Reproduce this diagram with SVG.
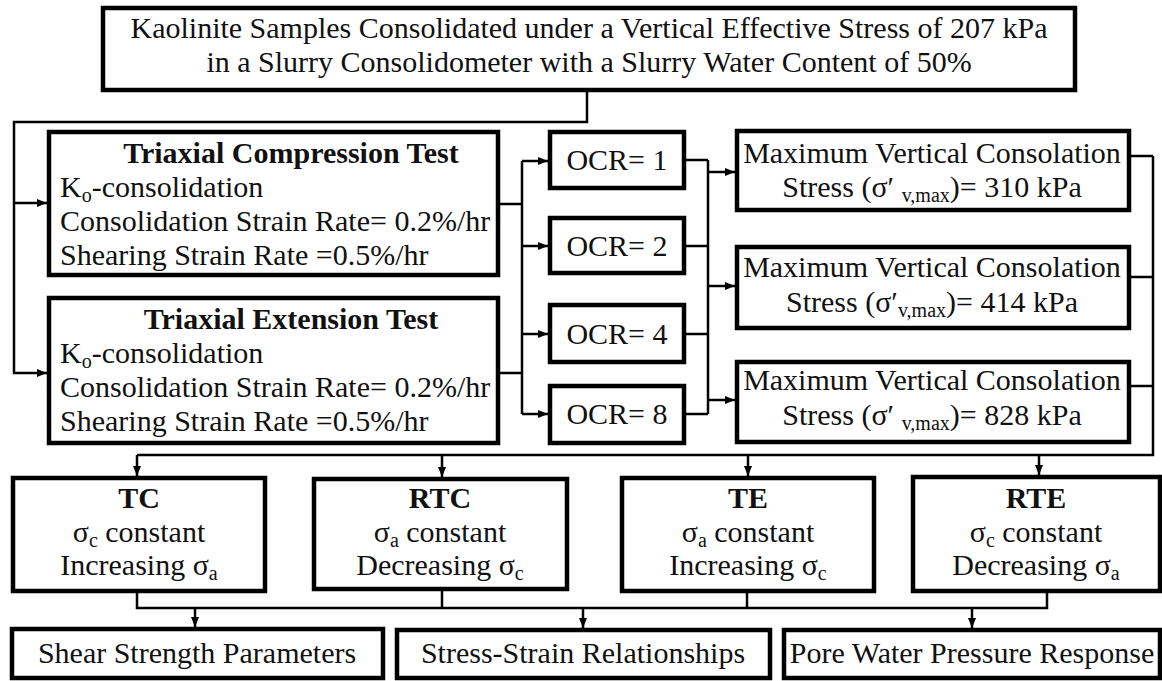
<svg xmlns="http://www.w3.org/2000/svg" width="1162" height="681" viewBox="0 0 1162 681">
<defs>
<marker id="ah" markerWidth="10" markerHeight="8" refX="10" refY="4" orient="auto" markerUnits="userSpaceOnUse"><path d="M0,0 L10,4 L0,8 z" fill="#000"/></marker>
<style>
.box{fill:#fff;stroke:#000;stroke-width:4.5}
text{font-family:'Liberation Serif','Times New Roman','DejaVu Serif',serif;font-size:30px;fill:#111}
.c{text-anchor:middle}
.b{font-weight:bold}
.sub{font-size:20px}
.ln{fill:none;stroke:#000;stroke-width:2.5}
.ar{fill:none;stroke:#000;stroke-width:2.5;marker-end:url(#ah)}
</style>
</defs>
<rect width="1162" height="681" fill="#fff"/>
<g id="connectors">
<path class="ar" d="M587,90 V122 H14 V373 H47"/>
<path class="ar" d="M14,203 H47"/>
<path class="ln" d="M498,204 H522 M498,373 H522 M522,161 V414"/>
<path class="ar" d="M522,161 H548"/>
<path class="ar" d="M522,246 H548"/>
<path class="ar" d="M522,334 H548"/>
<path class="ar" d="M522,414 H548"/>
<path class="ln" d="M684,160 H708 M684,246 H708 M684,334 H708 M684,414 H708 M708,160 V414"/>
<path class="ar" d="M708,172 H735"/>
<path class="ar" d="M708,286 H735"/>
<path class="ar" d="M708,400 H735"/>
<path class="ln" d="M1129,156 H1153 M1129,277 H1153 M1129,386 H1153 M1153,156 V455 H137"/>
<path class="ar" d="M137,455 V476"/>
<path class="ar" d="M442,455 V477"/>
<path class="ar" d="M748,455 V476"/>
<path class="ar" d="M1039,455 V475"/>
<path class="ln" d="M137,591 V608 H1047 V591 M442,589 V608 M747,591 V608"/>
<path class="ar" d="M195,608 V627"/>
<path class="ar" d="M583,608 V628"/>
<path class="ar" d="M972,608 V628"/>
</g>
<g id="top" font-family="Liberation Serif, serif">
<rect class="box" x="103" y="8" width="972" height="82"/>
<text class="c" x="589" y="38">Kaolinite Samples Consolidated under a Vertical Effective Stress of 207 kPa</text>
<text class="c" x="589" y="72">in a Slurry Consolidometer with a Slurry Water Content of 50%</text>
</g>
<g id="compression">
<rect class="box" x="49" y="132" width="449" height="143"/>
<text class="c b" x="291" y="163">Triaxial Compression Test</text>
<text x="60" y="197">K<tspan class="sub" baseline-shift="-5">o</tspan>-consolidation</text>
<text x="60" y="231">Consolidation Strain Rate= 0.2%/hr</text>
<text x="60" y="265">Shearing Strain Rate =0.5%/hr</text>
</g>
<g id="extension">
<rect class="box" x="49" y="298" width="449" height="145"/>
<text class="c b" x="291" y="329">Triaxial Extension Test</text>
<text x="60" y="363">K<tspan class="sub" baseline-shift="-5">o</tspan>-consolidation</text>
<text x="60" y="397">Consolidation Strain Rate= 0.2%/hr</text>
<text x="60" y="431">Shearing Strain Rate =0.5%/hr</text>
</g>
<g id="ocr1"><rect class="box" x="550" y="132" width="134" height="56"/><text class="c" x="617" y="170">OCR= 1</text></g>
<g id="ocr2"><rect class="box" x="550" y="218" width="134" height="55"/><text class="c" x="617" y="256">OCR= 2</text></g>
<g id="ocr4"><rect class="box" x="550" y="305" width="134" height="57"/><text class="c" x="617" y="344">OCR= 4</text></g>
<g id="ocr8"><rect class="box" x="550" y="386" width="134" height="57"/><text class="c" x="617" y="424">OCR= 8</text></g>
<g id="max1">
<rect class="box" x="737" y="131" width="392" height="79"/>
<text class="c" x="932" y="163">Maximum Vertical Consolation</text>
<text class="c" x="932" y="197">Stress (σ′ <tspan class="sub" baseline-shift="-5">v,max</tspan>)= 310 kPa</text>
</g>
<g id="max2">
<rect class="box" x="737" y="247" width="392" height="81"/>
<text class="c" x="932" y="277">Maximum Vertical Consolation</text>
<text class="c" x="932" y="312">Stress (σ′<tspan class="sub" baseline-shift="-5">v,max</tspan>)= 414 kPa</text>
</g>
<g id="max3">
<rect class="box" x="737" y="362" width="392" height="80"/>
<text class="c" x="932" y="390">Maximum Vertical Consolation</text>
<text class="c" x="932" y="425">Stress (σ′ <tspan class="sub" baseline-shift="-5">v,max</tspan>)= 828 kPa</text>
</g>
<g id="tc">
<rect class="box" x="13" y="478" width="252" height="113"/>
<text class="c b" x="139" y="508">TC</text>
<text class="c" x="139" y="542">σ<tspan class="sub" baseline-shift="-5">c</tspan> constant</text>
<text class="c" x="139" y="575">Increasing σ<tspan class="sub" baseline-shift="-5">a</tspan></text>
</g>
<g id="rtc">
<rect class="box" x="314" y="479" width="253" height="110"/>
<text class="c b" x="440" y="508">RTC</text>
<text class="c" x="440" y="542">σ<tspan class="sub" baseline-shift="-5">a</tspan> constant</text>
<text class="c" x="440" y="575">Decreasing σ<tspan class="sub" baseline-shift="-5">c</tspan></text>
</g>
<g id="te">
<rect class="box" x="622" y="478" width="252" height="113"/>
<text class="c b" x="748" y="508">TE</text>
<text class="c" x="748" y="542">σ<tspan class="sub" baseline-shift="-5">a</tspan> constant</text>
<text class="c" x="748" y="575">Increasing σ<tspan class="sub" baseline-shift="-5">c</tspan></text>
</g>
<g id="rte">
<rect class="box" x="913" y="477" width="247" height="114"/>
<text class="c b" x="1036" y="508">RTE</text>
<text class="c" x="1036" y="542">σ<tspan class="sub" baseline-shift="-5">c</tspan> constant</text>
<text class="c" x="1036" y="575">Decreasing σ<tspan class="sub" baseline-shift="-5">a</tspan></text>
</g>
<g id="shear"><rect class="box" x="12" y="629" width="371" height="49"/><text class="c" x="197" y="663">Shear Strength Parameters</text></g>
<g id="stressstrain"><rect class="box" x="397" y="630" width="373" height="48"/><text class="c" x="583" y="663">Stress-Strain Relationships</text></g>
<g id="pore"><rect class="box" x="784" y="630" width="376" height="48"/><text class="c" x="972" y="663">Pore Water Pressure Response</text></g>
</svg>
